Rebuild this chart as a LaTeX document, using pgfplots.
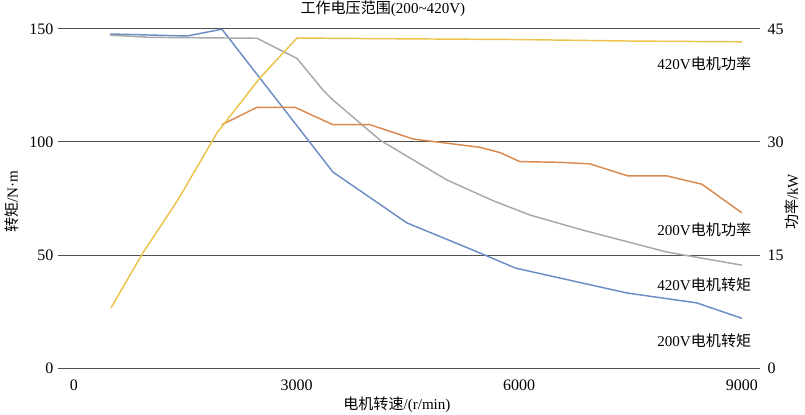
\documentclass[border=0pt]{standalone}
\usepackage{pgfplots}
\pgfplotsset{compat=1.18}
\usepackage{fontspec}
\setmainfont{Liberation Serif}
\newfontfamily\cjk{Noto Sans CJK SC}
\usetikzlibrary{calc}
\definecolor{cblue}{HTML}{6C8DC4}
\definecolor{cgray}{HTML}{A8A8A8}
\definecolor{corange}{HTML}{D98A4E}
\definecolor{cyellow}{HTML}{EBC34B}
\definecolor{cgrid}{HTML}{505050}
\newcommand{\lbl}{\fontsize{11.3pt}{13pt}\selectfont}
\newcommand{\tkl}{\fontsize{12pt}{14pt}\selectfont}
\begin{document}
\begin{tikzpicture}
\pgfplotsset{
  base/.style={scale only axis, width=526.5pt, height=254.25pt,
    xmin=-215, xmax=9245, clip=false,
    axis line style={draw=none}, major tick length=0pt,
    tick label style={font=\tkl},
    /pgf/number format/assume math mode=true,
    /pgf/number format/1000 sep={}},
}
\begin{axis}[base, name=ax, ymin=0, ymax=150,
  ytick={0,50,100,150}, xtick={0,3000,6000,9000},
  ymajorgrids, grid style={cgrid, line width=0.75pt},
  xticklabel style={yshift=-5pt}]
\addplot[cblue, line width=1.1pt] coordinates {
 (485,147.8) (1523,146.9) (1994,149.9) (3490,86.7) (4487,64.2) (5470,50.9)
 (5950,44.2) (7451,33.2) (8394,28.8) (9000,22.0)};
\addplot[cgray, line width=1.1pt] coordinates {
 (485,147.3) (1024,146.3) (2466,145.9) (3005,137) (3355,123) (3490,118.6)
 (4123,100.9) (4392,95.6) (5026,83.2) (5650,74) (6144,67.7) (6858,61)
 (7990,51.3) (9000,45.5)};
\node[anchor=east, font=\lbl] at (axis cs:9189,134.5) {420V{\cjk 电机功率}};
\node[anchor=east, font=\lbl] at (axis cs:9189,61) {200V{\cjk 电机功率}};
\node[anchor=east, font=\lbl] at (axis cs:9189,37) {420V{\cjk 电机转矩}};
\node[anchor=east, font=\lbl] at (axis cs:9189,12) {200V{\cjk 电机转矩}};
\node[font=\lbl] at (axis cs:4163,150) [yshift=15pt] {{\cjk 工作电压范围}(200\textasciitilde420V)};
\node[font=\lbl] at (axis cs:4352,0) [yshift=-27.5pt] {{\cjk 电机转速}/(r/min)};
\node[font=\lbl, rotate=90] at (axis cs:-835,73.5) {{\cjk 转矩}/N·m};
\node[font=\lbl, rotate=90] at (axis cs:9676,73.5) {{\cjk 功率}/kW};
\end{axis}
\begin{axis}[base, ymin=0, ymax=45, ytick={0,15,30,45},
  axis y line*=right, axis x line=none, yticklabel style={xshift=2.25pt}]
\addplot[corange, line width=1.1pt] coordinates {
 (1994,32.3) (2466,34.6) (2978,34.6) (3490,32.3) (3988,32.3) (4570,30.4)
 (5470,29.3) (5740,28.6) (6009,27.4) (6548,27.3) (6952,27.1) (7464,25.5)
 (7990,25.5) (8461,24.4) (9000,20.6)};
\addplot[cyellow, line width=1.1pt] coordinates {
 (500,8.0) (930,15.3) (1400,22.3) (1927,31.2) (2196,34.6) (2506,38.5)
 (3005,43.8) (4392,43.7) (6000,43.6) (7500,43.4) (9000,43.3)};
\end{axis}
\pgfresetboundingbox
\path ($(ax.south west)+(-43.5pt,-34.5pt)$) rectangle ($(ax.north east)+(33.75pt,21.75pt)$);
\end{tikzpicture}
\end{document}
